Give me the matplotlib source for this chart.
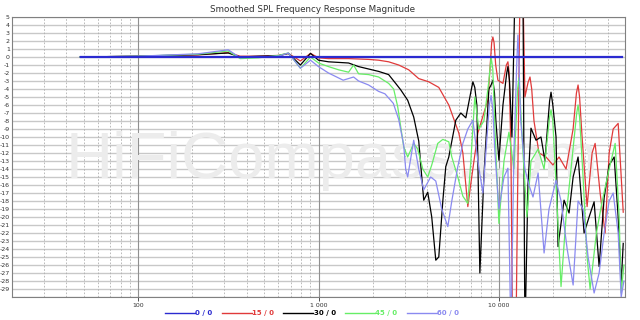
import matplotlib.pyplot as plt
import numpy as np

# --- data (Hz, dB) ---
freq_0 = [48, 48000]
db_0 = [0, 0]

freq_15 = [47.5, 100, 215, 316, 368, 464, 599, 681, 794, 903, 1000, 1136, 1468, 1896, 2154, 2448,
           2783, 3162, 3594, 4084, 4642, 5275, 5995, 6313, 6726, 6990, 7644, 8254, 8687, 8950, 9120,
           9259, 9400, 9600, 9872, 10530, 11000, 11220, 11400, 11660, 11970, 12430, 13080, 13600,
           13940, 14500, 14870, 15200, 15650, 16681, 18245, 19930, 21544, 23565, 25780, 26900, 27470,
           28000, 28910, 30820, 32860, 34150, 36400, 38790, 40842, 43000, 45820, 48880]
db_15 = [0, 0.1, 0.25, 0.55, 0.1, 0.1, 0.2, 0.45, -0.5, 0.45, -0.1, -0.2, -0.2, -0.3, -0.4, -0.6,
         -1.0, -1.6, -2.7, -3.1, -3.8, -6.0, -9.5, -12, -18.7, -15.8, -9.5, -7, -5.4, -1.0, 1.8,
         2.5, 1.8, -1.0, -2.9, -3.3, -1.0, -0.6, -2, -12, -40, -35, 8, 8,
         -5, -3.2, -2.5, -4, -8, -12, -12.5, -13.5, -12.5, -14, -9, -4.5, -3.5,
         -5, -10, -18.7, -12, -10.8, -17, -22, -12, -9, -8.3, -19.4]

freq_30 = [47.5, 100, 215, 316, 368, 464, 599, 681, 794, 903, 1000, 1136, 1468, 1668, 1896, 2154,
           2448, 2678, 2855, 3121, 3371, 3594, 3831, 4032, 4243, 4468, 4642, 4888, 5077, 5275, 5770,
           6151, 6557, 7000, 7174, 7350, 7547, 7843, 8254, 8799, 9050, 9259, 9450, 9625, 10000, 10530,
           11050, 11220, 11450, 11810, 12265, 12915, 13600, 13940, 14490, 15060, 16055, 17115, 18000,
           18710, 19100, 19450, 19900, 20735, 21270, 22970, 24484, 25790, 27470, 29660, 31623, 33710,
           35938, 38310, 40842, 43540, 45820, 47620, 48880]
db_30 = [0, 0.1, 0.3, 0.5, 0, 0.1, 0.15, 0.45, -1.0, 0.45, -0.4, -0.6, -0.75, -1.2, -1.5, -1.8,
         -2.2, -3.3, -4.1, -5.4, -7.5, -10.5, -17.9, -16.9, -20, -25.4, -25, -18, -13.7, -12.5, -7.9,
         -7, -7.6, -4.3, -3.1, -3.8, -6, -27, -15, -4, -3.5, -2.9, -4.5, -8, -12.9, -6,
         -2, -1.2, -3, -10, 8, 8, 8, -35, -16, -8.9, -10.4, -10, -13,
         -8, -5.5, -4.4, -6, -10, -23.7, -17.9, -19.5, -15, -12.5, -22, -20, -18.1,
         -26.2, -17.6, -13.5, -12.5, -20, -28.3, -23.3]

freq_45 = [47.5, 100, 215, 316, 368, 464, 599, 681, 794, 903, 1000, 1136, 1292, 1468, 1565, 1668,
           1896, 2154, 2448, 2610, 2747, 2855, 2966, 3121, 3371, 3548, 3784, 4032, 4243, 4582, 4888,
           5275, 5481, 5918, 6313, 6726, 6990, 7350, 7743, 8254, 8800, 9050, 9250, 9510, 10000, 10670,
           11365, 12110, 12700, 12915, 13100, 13600, 14300, 15060, 16500, 17800, 19100, 19450, 19900,
           20735, 22100, 23565, 25100, 27000, 27470, 28000, 29280, 30820, 32030, 34700, 37400, 40842,
           44100, 46416, 47620, 49300]
db_45 = [0, 0.1, 0.35, 0.75, -0.2, -0.1, 0.2, 0.5, -1.4, 0, -0.75, -1.2, -1.6, -1.9, -1.0, -2.1,
         -2.2, -2.5, -3.3, -4.0, -6.2, -8.7, -11.2, -12.5, -10.8, -11.5, -14, -15, -13.5, -10.8, -10.3,
         -10.6, -12.5, -15, -17.4, -18.3, -13, -5, -9, -8, -3, 0, -1.5, -9, -20.8, -13,
         -9.4, -14, -4, -2.6, -5, -12, -20, -13, -11.5, -14, -7.5, -6.6, -8,
         -16, -28.7, -20, -14, -7, -6, -7.5, -15, -25, -29, -22, -18, -14,
         -10.8, -20, -29.5, -26]

freq_60 = [47.5, 100, 215, 316, 368, 464, 599, 681, 794, 903, 1000, 1136, 1370, 1565, 1668, 1896,
           2154, 2335, 2600, 2783, 2966, 3043, 3121, 3371, 3594, 3831, 4185, 4468, 4820, 5210, 5481,
           5918, 6313, 6726, 7174, 7644, 8150, 8590, 8850, 9050, 9250, 9510, 10000, 10670, 11220,
           11660, 12110, 12550, 12750, 12950, 13210, 13940, 14678, 15450, 16500, 17800, 18957, 20735,
           22100, 23900, 25790, 27470, 29280, 31220, 33710, 35938, 38310, 40842, 43000, 45820, 47620,
           49300]
db_60 = [0, 0.1, 0.4, 0.9, -0.1, 0, 0.1, 0.5, -1.4, -0.4, -1.2, -2.0, -2.9, -2.5, -3.0, -3.5,
         -4.3, -4.6, -5.8, -7.8, -11, -14, -15, -10.4, -14, -16.6, -15, -15.5, -19, -21.2, -18,
         -13.7, -10.8, -9, -7.9, -13, -17, -10, -6, -4.8, -6.5, -12, -19, -15, -13.9,
         -35, -12, -1, 2.75, -1.5, -8, -14, -16, -17.5, -14.5, -24.5, -19, -15.4,
         -18, -24, -28.5, -18, -19, -25, -29.5, -27, -22, -18, -17, -22, -30,
         -28]

labels = ["0 / 0", "15 / 0", "30 / 0", "45 / 0", "60 / 0"]
colors = ["#2b2bd0", "#e03a3a", "#000000", "#66ee66", "#8a8af0"]

fig = plt.figure(figsize=(6.4, 3.2), dpi=100)
ax = fig.add_axes([12/640, 1-297/320, (625-12)/640, (297-17)/320])

ax.set_xscale("log")
ax.set_xlim(20, 50000)
ax.set_ylim(-30, 5)

# grid
for v in range(-30, 6):
    ax.axhline(v, color="#c8c8c8", lw=1.0, zorder=0)
for dec in [10, 100, 1000, 10000]:
    for m in range(2, 10):
        f = dec * m
        if 20 <= f <= 50000:
            ax.axvline(f, color="#b0b0b0", lw=0.6, ls=(0, (2, 2)), zorder=0)
for f in [100, 1000, 10000]:
    ax.axvline(f, color="#909090", lw=0.8, zorder=0)

series = [(freq_15, db_15), (freq_30, db_30), (freq_45, db_45), (freq_60, db_60)]
handles = []
for (fx, dy), c, lab in zip(series, colors[1:], labels[1:]):
    h, = ax.plot(fx, dy, color=c, lw=0.9, label=lab, zorder=2)
    handles.append(h)
h0, = ax.plot(freq_0, db_0, color=colors[0], lw=1.6, label=labels[0], zorder=3)
handles.insert(0, h0)

ax.set_yticks(range(-30, 6))
ax.set_yticklabels(["" if v == -30 else str(v) for v in range(-30, 6)])
ax.set_xticks([100, 1000, 10000])
ax.set_xticklabels(["100", "1 000", "10 000"])
ax.xaxis.set_minor_locator(plt.NullLocator())
ax.tick_params(axis="y", length=0, pad=1.5, labelsize=4.5, colors="#333333")
ax.tick_params(axis="x", length=3, width=0.6, pad=1.5, labelsize=4.5, colors="#333333")
for s in ax.spines.values():
    s.set_color("#808080")
    s.set_linewidth(0.8)

# watermark
ax.text(0.088, 0.425, "HiFiCompass.com", transform=ax.transAxes, fontsize=47,
        family="Liberation Sans", color="#ececec", zorder=1, va="baseline", ha="left")

fig.text(313/640, 1-9/320, "Smoothed SPL Frequency Response Magnitude", ha="center",
         va="center", fontsize=6.3, color="#333333")

leg = fig.legend(handles=handles, loc="center", bbox_to_anchor=(312/640, 1-313/320), ncol=5,
                 frameon=False, handlelength=4.3, handletextpad=0.1,
                 columnspacing=1.3, prop={"weight": "bold", "size": 5})
for t, c in zip(leg.get_texts(), colors):
    t.set_color(c)
for l in leg.get_lines():
    l.set_linewidth(1.0)

fig.savefig("out.png", dpi=100)
